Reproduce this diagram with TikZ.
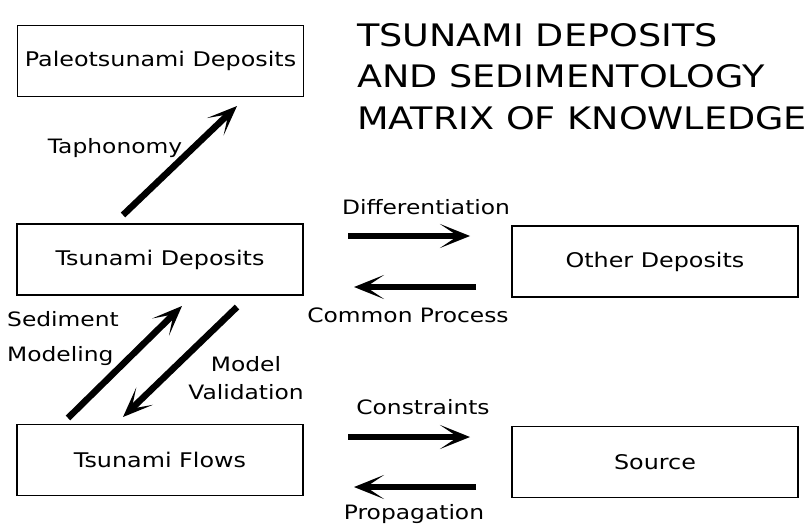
\documentclass[tikz,border=0pt]{standalone}
\usepackage{fontspec}
\setmainfont[FakeStretch=1.18]{DejaVu Sans}
\usetikzlibrary{arrows.meta}

\tikzset{
  box/.style={draw, line width=1.8pt, minimum width=286pt, minimum height=71pt, inner sep=0pt, font=\fontsize{20.2}{24}\selectfont},
  lbl/.style={inner sep=0pt, font=\fontsize{19.8}{34}\selectfont},
  fat/.style={line width=6.5pt, -{Stealth[length=30pt, width=24pt, inset=18pt]}}
}

\begin{document}
\begin{tikzpicture}[x=1pt, y=-1pt]
		\useasboundingbox (0,0) rectangle (810,529);
		
		% Boxes
		\node[box] (paleo) at (160.5,61) {Paleotsunami Deposits};
		\node[box] (tdep) at (160,259.5) {Tsunami Deposits};
		\node[box] (flows) at (160,460) {Tsunami Flows};
		\node[box] (other) at (655,261.5) {Other Deposits};
		\node[box] (source) at (655,462) {Source};
		
		% Title
		\node[anchor=north west, align=left, inner sep=0pt, font=\fontsize{31}{41.5}\selectfont] (title) at (357,23)
		{TSUNAMI DEPOSITS\\AND SEDIMENTOLOGY\\MATRIX OF KNOWLEDGE};
		
		% Arrow ends
		\coordinate (tapA) at (123,215);
		\coordinate (tapB) at (237,106);
		\coordinate (sedA) at (68,418);
		\coordinate (sedB) at (182,306);
		\coordinate (valA) at (237,307);
		\coordinate (valB) at (123,417);
		\coordinate (difA) at (348,236);
		\coordinate (difB) at (470,236);
		\coordinate (comA) at (476,287);
		\coordinate (comB) at (354,287);
		\coordinate (conA) at (348,437);
		\coordinate (conB) at (470,437);
		\coordinate (proA) at (476,487);
		\coordinate (proB) at (354,487);
		
		% Draw arrows
		\draw[fat] (tapA) -- (tapB);
		\draw[fat] (sedA) -- (sedB);
		\draw[fat] (valA) -- (valB);
		\draw[fat] (difA) -- (difB);
		\draw[fat] (comA) -- (comB);
		\draw[fat] (conA) -- (conB);
		\draw[fat] (proA) -- (proB);
		
		% Arrow labels
		\node[lbl] (tap) at (115,148) {Taphonomy};
		\node[lbl, align=left, font=\fontsize{19.8}{35}\selectfont] (sed) at (63,339) {Sediment\\Modeling};
		\node[lbl, align=center, font=\fontsize{19.8}{28}\selectfont] (val) at (246,378) {Model\\Validation};
		\node[lbl] (dif) at (426,207) {Differentiation};
		\node[lbl] (com) at (408,315) {Common Process};
		\node[lbl] (con) at (423,407) {Constraints};
		\node[lbl] (pro) at (414,514) {Propagation};
		
\end{tikzpicture}
\end{document}
